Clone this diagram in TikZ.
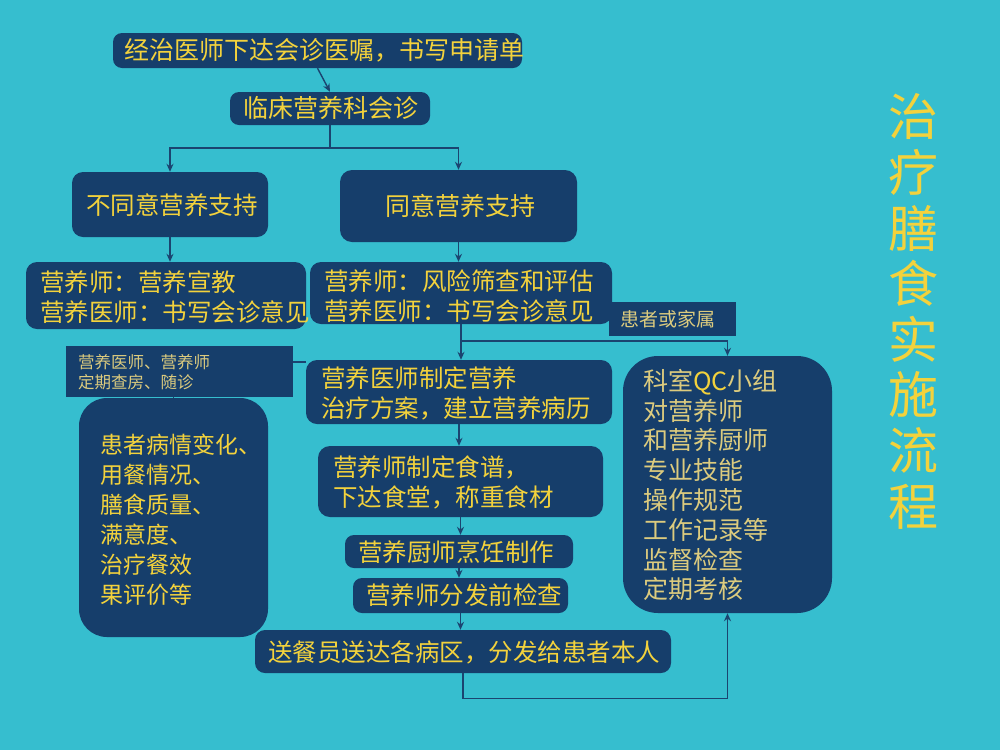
\documentclass[tikz,border=0pt]{standalone}
\usepackage{fontspec}
\setmainfont{Noto Sans CJK SC}
\usetikzlibrary{arrows.meta,calc}
\definecolor{bg}{HTML}{36BECF}
\definecolor{navy}{HTML}{163E6B}
\definecolor{gold}{HTML}{F3D23C}
\definecolor{pale}{HTML}{DCCB7E}
\definecolor{wire}{HTML}{1B4470}
\begin{document}
\begin{tikzpicture}[x=1pt,y=-1pt,
  box/.style={fill=navy, rounded corners=9pt, inner sep=0pt, draw=none},
  tagbox/.style={fill=navy, inner sep=0pt, draw=none},
  txt/.style={anchor=west, text=gold, align=left, inner sep=0pt, font=\fontsize{24.5}{30}\selectfont},
  paletxt/.style={anchor=west, text=pale, align=left, inner sep=0pt},
  conn/.style={draw=wire, line width=1.4pt},
  arr/.style={conn, -{Stealth[length=8pt,width=7pt]}}]
\useasboundingbox (0,0) rectangle (1000,750);
\fill[bg] (0,0) rectangle (1000,750);

% boxes
\node[box, minimum width=409pt, minimum height=35pt] (b1) at (317.5,50.5) {};
\node[box, minimum width=200pt, minimum height=33pt] (b2) at (330,108.5) {};
\node[box, minimum width=196pt, minimum height=65pt, rounded corners=11pt] (b3) at (170,204.5) {};
\node[box, minimum width=237pt, minimum height=72pt, rounded corners=12pt] (b4) at (458.5,206) {};
\node[box, minimum width=280pt, minimum height=67pt, rounded corners=11pt] (b5) at (166,295.5) {};
\node[box, minimum width=302pt, minimum height=62pt, rounded corners=11pt] (b6) at (461,293) {};
\node[tagbox, minimum width=227pt, minimum height=51pt] (lab1) at (179.5,371.5) {};
\node[box, minimum width=189pt, minimum height=239pt, rounded corners=28pt] (b7) at (173.5,517.5) {};
\node[box, minimum width=306pt, minimum height=64pt, rounded corners=11pt] (b8) at (459,392) {};
\node[tagbox, minimum width=127pt, minimum height=34pt] (lab2) at (672.5,319) {};
\node[box, minimum width=209pt, minimum height=257pt, rounded corners=35pt] (b9) at (727.5,484.5) {};
\node[box, minimum width=285pt, minimum height=71pt, rounded corners=12pt] (b10) at (460.5,481.5) {};
\node[box, minimum width=228pt, minimum height=33pt] (b11) at (459,551.5) {};
\node[box, minimum width=215pt, minimum height=35pt] (b12) at (460.5,595.5) {};
\node[box, minimum width=416pt, minimum height=43pt, rounded corners=10pt] (b13) at (463,651.5) {};

% connectors
\coordinate (j1) at (330,148);
\coordinate (j2) at (461,341);
\coordinate (y362) at (0,362);
\draw[arr] (b1.south) -- (b2.north);
\draw[conn] (b2.south) -- (j1);
\draw[arr] (j1) -| (b3.north);
\draw[arr] (j1) -| (b4.north);
\draw[arr] (b3.south) -- (b3.south |- b5.north);
\draw[arr] (b4.south) -- (b4.south |- b6.north);
\draw[arr] (b6.south) -- (b6.south |- b8.north);
\draw[arr] (j2) -| (b9.north);
\draw[conn] (lab1.east |- y362) -- (b8.west |- y362);
\draw[conn] (b7.north) -- (b7.north |- lab1.south);
\draw[arr] (b8.south) -- (b8.south |- b10.north);
\draw[arr] (b10.south) -- (b10.south |- b11.north);
\draw[arr] (b11.south) -- (b11.south |- b12.north);
\draw[arr] (b12.south) -- (b12.south |- b13.north);
\draw[arr] (b13.south) -- ++(0,25) -| (b9.south);

% texts
\node[txt, font=\fontsize{25}{30}\selectfont] (t1) at (124,50) {经治医师下达会诊医嘱，书写申请单};
\node[txt, font=\fontsize{25}{30}\selectfont] (t2) at (243,108) {临床营养科会诊};
\node[txt] (t3) at (86,205) {不同意营养支持};
\node[txt, font=\fontsize{25}{30}\selectfont] (t4) at (385,206) {同意营养支持};
\node[txt] (t5) at (40,297) {营养师：营养宣教\\营养医师：书写会诊意见};
\node[txt] (t6) at (324,296) {营养师：风险筛查和评估\\营养医师：书写会诊意见};
\node[paletxt, font=\fontsize{16.5}{20}\selectfont] (tl1) at (78,372) {营养医师、营养师\\定期查房、随诊};
\node[txt, font=\fontsize{23}{30}\selectfont] (t7) at (100,520) {患者病情变化、\\用餐情况、\\膳食质量、\\满意度、\\治疗餐效\\果评价等};
\node[txt] (t8) at (321,393) {营养医师制定营养\\治疗方案，建立营养病历};
\node[paletxt, font=\fontsize{19}{24}\selectfont] (tl2) at (620,319) {患者或家属};
\node[paletxt, font=\fontsize{25}{29.8}\selectfont] (t9) at (643,485) {科室\textcolor{gold}{QC}小组\\对营养师\\和营养厨师\\专业技能\\操作规范\\工作记录等\\监督检查\\定期考核};
\node[txt] (t10) at (333,482) {营养师制定食谱，\\下达食堂，称重食材};
\node[txt] (t11) at (358,552) {营养厨师烹饪制作};
\node[txt] (t12) at (366,595) {营养师分发前检查};
\node[txt] (t13) at (268,652) {送餐员送达各病区，分发给患者本人};
\node[text=gold, align=center, inner sep=0pt, font=\fontsize{50}{55.6}\selectfont] (title) at (913,311.5) {治\\疗\\膳\\食\\实\\施\\流\\程};
\end{tikzpicture}
\end{document}
